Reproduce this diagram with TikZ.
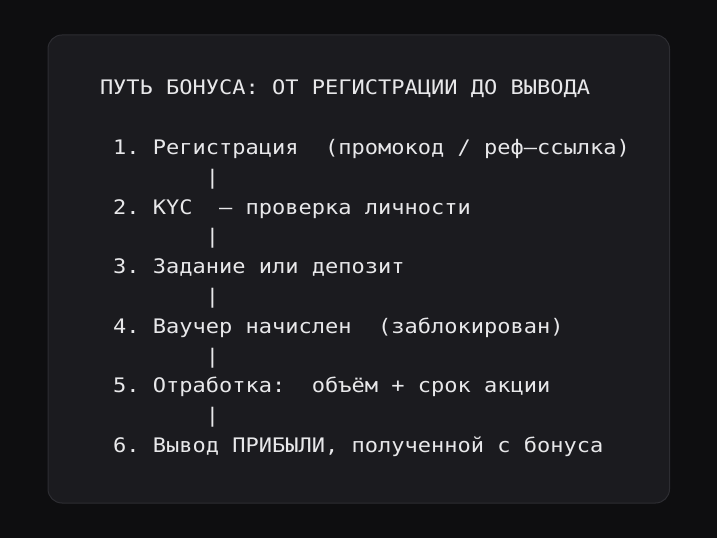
\documentclass[tikz,border=0pt]{standalone}
\usepackage{fontspec}
\newfontfamily\monof[FakeStretch=1.1]{DejaVu Sans Mono}
\definecolor{outerbg}{HTML}{0E0E10}
\definecolor{cardbg}{HTML}{1B1B1F}
\definecolor{cardline}{HTML}{2D2D32}
\definecolor{txt}{HTML}{E8E8EA}
\frenchspacing
\tikzset{
  line/.style={anchor=base west, inner sep=0pt, outer sep=0pt, text=txt,
    font=\monof\fontsize{20}{20}\selectfont\frenchspacing},
}
\begin{document}
\begin{tikzpicture}[x=1pt,y=1pt]
  \fill[outerbg] (0,0) rectangle (717,538);
  \useasboundingbox (0,0) rectangle (717,538);
  \draw[cardline, fill=cardbg, line width=1pt, rounded corners=14pt]
    (48,35) rectangle (669.5,503);
  % baseline of line k (image y) = 95 + 29.8 k ; tikz y = 538 - that
  \def\cw{13.24}
  \node[line] (t)  at (100, 538-95)            {ПУТЬ БОНУСА: ОТ РЕГИСТРАЦИИ ДО ВЫВОДА};
  \node[line] (l1) at (100+\cw, 538-95-2*29.8)  {1. Регистрация~~(промокод / реф—ссылка)};
  \node[line] (p1) at (100+8*\cw, 538-95-3*29.8) {|};
  \node[line] (l2) at (100+\cw, 538-95-4*29.8)  {2. KYC~~— проверка личности};
  \node[line] (p2) at (100+8*\cw, 538-95-5*29.8) {|};
  \node[line] (l3) at (100+\cw, 538-95-6*29.8)  {3. Задание или депозит};
  \node[line] (p3) at (100+8*\cw, 538-95-7*29.8) {|};
  \node[line] (l4) at (100+\cw, 538-95-8*29.8)  {4. Ваучер начислен~~(заблокирован)};
  \node[line] (p4) at (100+8*\cw, 538-95-9*29.8) {|};
  \node[line] (l5) at (100+\cw, 538-95-10*29.8) {5. Отработка:~~объём + срок акции};
  \node[line] (p5) at (100+8*\cw, 538-95-11*29.8) {|};
  \node[line] (l6) at (100+\cw, 538-95-12*29.8) {6. Вывод ПРИБЫЛИ, полученной с бонуса};
\end{tikzpicture}
\end{document}
